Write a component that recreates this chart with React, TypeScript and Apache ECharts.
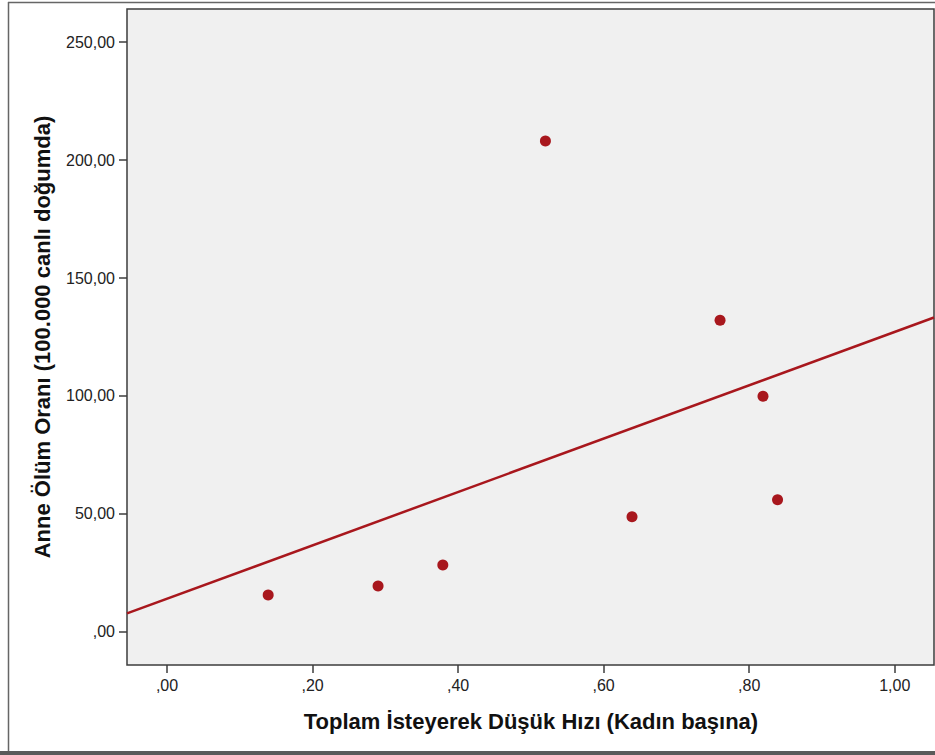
import React, { useEffect, useRef } from "react";
import * as echarts from "echarts";

const xValues = [0.139, 0.29, 0.379, 0.52, 0.639, 0.76, 0.819, 0.839];
const yValues = [15.7, 19.5, 28.4, 208.1, 48.8, 132.1, 99.9, 56.0];
const xTickValues = [0, 0.2, 0.4, 0.6, 0.8, 1.0];
const yTickValues = [0, 50, 100, 150, 200, 250];
const xTitle = "Toplam İsteyerek Düşük Hızı (Kadın başına)";
const yTitle = "Anne Ölüm Oranı (100.000 canlı doğumda)";

const X_MIN = -0.055;
const X_MAX = 1.054;
const Y_MIN = -14;
const Y_MAX = 264;

const RED = "#a8171d";
const FONT = "'Liberation Sans', Arial, sans-serif";

function fmt(v: number): string {
  const s = v.toFixed(2).replace(".", ",");
  return s.startsWith("0,") ? s.slice(1) : s;
}

function fit(xs: number[], ys: number[]) {
  const n = xs.length;
  const mx = xs.reduce((a, b) => a + b, 0) / n;
  const my = ys.reduce((a, b) => a + b, 0) / n;
  let sxy = 0;
  let sxx = 0;
  for (let i = 0; i < n; i++) {
    sxy += (xs[i] - mx) * (ys[i] - my);
    sxx += (xs[i] - mx) * (xs[i] - mx);
  }
  const b = sxy / sxx;
  return { a: my - b * mx, b };
}

export default function App() {
  const ref = useRef<HTMLDivElement>(null);
  useEffect(() => {
    if (!ref.current) return;
    const chart = echarts.init(ref.current, undefined, { renderer: "svg" });
    const { a, b } = fit(xValues, yValues);
    const points = xValues.map((x, i) => [x, yValues[i]]);
    const fitLine = [
      [X_MIN, a + b * X_MIN],
      [X_MAX, a + b * X_MAX],
    ];
    chart.setOption({
      animation: false,
      backgroundColor: "#ffffff",
      grid: {
        left: 127,
        top: 9,
        right: 1,
        bottom: 90,
        show: true,
        backgroundColor: "#f0f0f0",
        borderColor: "#3c3c3c",
        borderWidth: 1.5,
      },
      xAxis: {
        type: "value",
        min: X_MIN,
        max: X_MAX,
        axisLine: { show: false, onZero: false },
        splitLine: { show: false },
        axisTick: {
          show: true,
          inside: false,
          length: 8,
          customValues: xTickValues,
          lineStyle: { color: "#3c3c3c", width: 1.5 },
        },
        axisLabel: {
          customValues: xTickValues,
          formatter: (v: number) => fmt(v),
          color: "#222",
          fontSize: 16,
          fontFamily: FONT,
          margin: 12,
        },
      },
      yAxis: {
        type: "value",
        min: Y_MIN,
        max: Y_MAX,
        axisLine: { show: false, onZero: false },
        splitLine: { show: false },
        axisTick: {
          show: true,
          inside: false,
          length: 8,
          customValues: yTickValues,
          lineStyle: { color: "#3c3c3c", width: 1.5 },
        },
        axisLabel: {
          customValues: yTickValues,
          formatter: (v: number) => fmt(v),
          color: "#222",
          fontSize: 16,
          fontFamily: FONT,
          margin: 12,
        },
      },
      series: [
        {
          type: "line",
          data: fitLine,
          showSymbol: false,
          symbol: "none",
          lineStyle: { color: RED, width: 2.5 },
          clip: true,
          silent: true,
          z: 2,
        },
        {
          type: "scatter",
          data: points,
          symbolSize: 11,
          itemStyle: { color: RED, opacity: 1 },
          z: 3,
        },
      ],
      graphic: [
        {
          type: "line",
          shape: { x1: 8.5, y1: 2, x2: 8.5, y2: 752 },
          style: { stroke: "#666", lineWidth: 1.5 },
        },
        {
          type: "line",
          shape: { x1: 8, y1: 2.5, x2: 935, y2: 2.5 },
          style: { stroke: "#666", lineWidth: 1.5 },
        },
        {
          type: "rect",
          shape: { x: 0, y: 751, width: 935, height: 4 },
          style: { fill: "#5a5a5a" },
        },
        {
          type: "text",
          x: 531,
          y: 721,
          style: {
            text: xTitle,
            fontSize: 22,
            fontWeight: "bold",
            fontFamily: FONT,
            fill: "#111",
            align: "center",
            verticalAlign: "middle",
          },
        },
        {
          type: "text",
          x: 42,
          y: 337,
          rotation: Math.PI / 2,
          style: {
            text: yTitle,
            fontSize: 22,
            fontWeight: "bold",
            fontFamily: FONT,
            fill: "#111",
            align: "center",
            verticalAlign: "middle",
          },
        },
      ],
    });
    return () => chart.dispose();
  }, []);
  return (
    <div
      ref={ref}
      style={{ position: "absolute", left: 0, top: 0, width: 935, height: 755 }}
    />
  );
}
